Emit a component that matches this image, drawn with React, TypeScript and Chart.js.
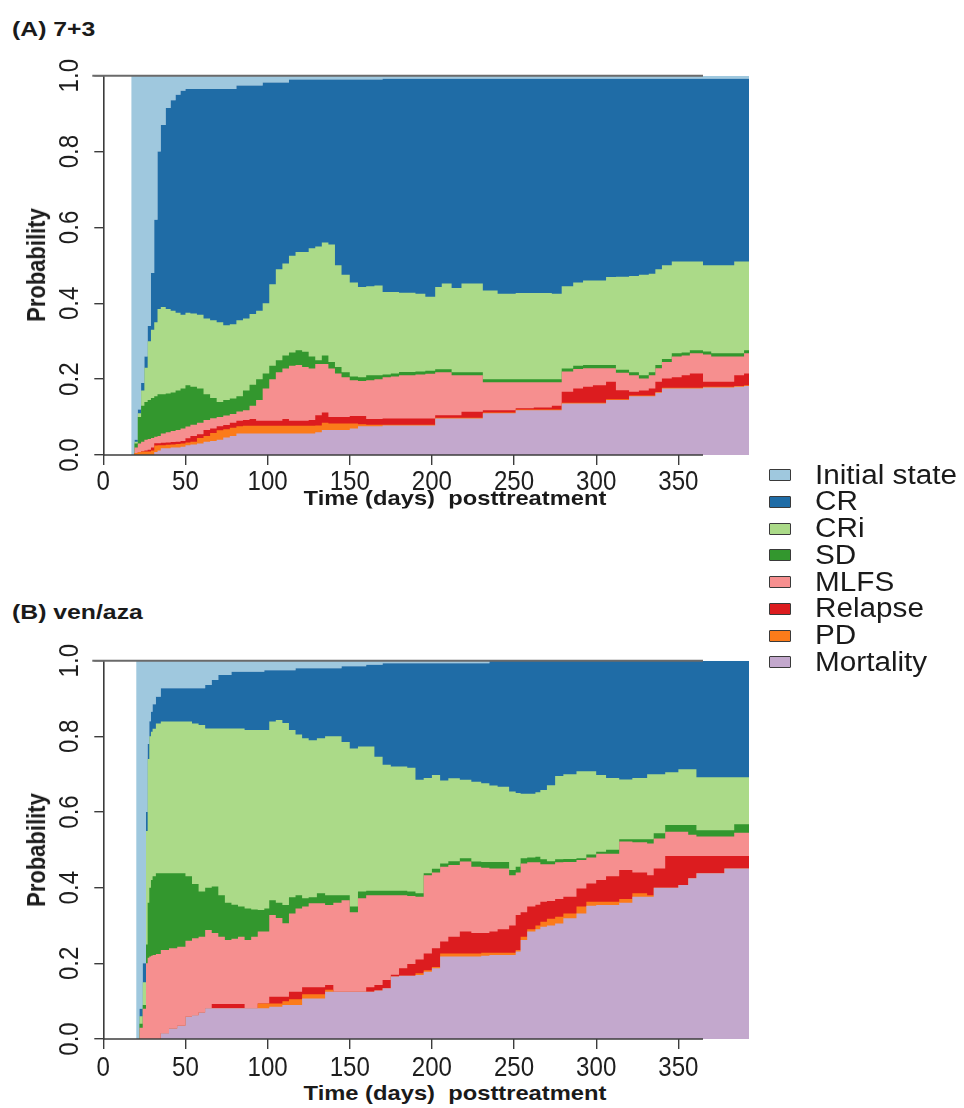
import React, { useEffect, useRef } from 'react';
import { Chart, registerables } from 'chart.js';

Chart.register(...registerables);

const FONT = "'Liberation Sans', Arial, Helvetica, sans-serif";

// ---------- shared labels / colours (bottom-to-top stacking order) ----------
const stateNames = ['Mortality', 'PD', 'Relapse', 'MLFS', 'SD', 'CRi', 'CR', 'Initial state'];
const stateColors = ['#c3a8cd', '#fb7b1a', '#dc1c1f', '#f68f8f', '#33972e', '#abda88', '#1f6ca6', '#9fc8de'];
const legendOrder = ['Initial state', 'CR', 'CRi', 'SD', 'MLFS', 'Relapse', 'PD', 'Mortality'];

const xTickValues = [0, 50, 100, 150, 200, 250, 300, 350];
const yTickValues = [0, 0.2, 0.4, 0.6, 0.8, 1.0];
const axisEndDay = 365;
const lastDay = 393;

// ---------- Panel A: 7+3 (cumulative upper edge of each state) ----------
const aDays = [17, 19, 21, 23, 25, 27, 29, 31, 33, 35, 38, 41, 44, 47, 50, 53, 57, 61, 65, 69, 73, 77, 81, 85, 89, 93, 97, 101, 105, 109, 113, 117, 121, 125, 129, 133, 137, 141, 145, 150, 155, 160, 165, 170, 175, 180, 190, 196, 202, 206, 212, 218, 225, 231, 240, 251, 262, 273, 279, 286, 292, 298, 306, 312, 320, 326, 332, 336, 340, 346, 352, 357, 365, 370, 384, 390, 393];
const aMortality = [0, 0, 0, 0, 0, 0, 0, 0.008, 0.012, 0.018, 0.018, 0.02, 0.02, 0.022, 0.026, 0.028, 0.03, 0.035, 0.037, 0.04, 0.046, 0.05, 0.057, 0.057, 0.057, 0.057, 0.057, 0.057, 0.057, 0.057, 0.057, 0.057, 0.057, 0.057, 0.06, 0.066, 0.066, 0.066, 0.066, 0.07, 0.076, 0.076, 0.076, 0.078, 0.078, 0.078, 0.078, 0.078, 0.096, 0.096, 0.096, 0.096, 0.096, 0.11, 0.11, 0.118, 0.118, 0.118, 0.136, 0.136, 0.136, 0.136, 0.145, 0.145, 0.155, 0.155, 0.155, 0.164, 0.175, 0.175, 0.175, 0.175, 0.178, 0.178, 0.18, 0.182, 0.182];
const aPD = [0, 0.005, 0.008, 0.009, 0.009, 0.009, 0.012, 0.025, 0.026, 0.026, 0.027, 0.028, 0.029, 0.03, 0.033, 0.035, 0.045, 0.05, 0.058, 0.065, 0.068, 0.072, 0.076, 0.077, 0.077, 0.077, 0.077, 0.077, 0.077, 0.077, 0.077, 0.077, 0.077, 0.077, 0.078, 0.085, 0.083, 0.083, 0.083, 0.083, 0.081, 0.08, 0.08, 0.08, 0.08, 0.08, 0.08, 0.08, 0.098, 0.098, 0.098, 0.098, 0.098, 0.112, 0.112, 0.12, 0.12, 0.12, 0.138, 0.138, 0.138, 0.138, 0.147, 0.147, 0.157, 0.157, 0.157, 0.166, 0.177, 0.177, 0.177, 0.177, 0.18, 0.18, 0.182, 0.184, 0.184];
const aRelapse = [0, 0.005, 0.008, 0.01, 0.012, 0.014, 0.02, 0.031, 0.031, 0.032, 0.033, 0.034, 0.035, 0.037, 0.044, 0.05, 0.055, 0.066, 0.07, 0.076, 0.079, 0.085, 0.09, 0.092, 0.095, 0.09, 0.09, 0.09, 0.09, 0.095, 0.09, 0.09, 0.09, 0.092, 0.105, 0.112, 0.1, 0.1, 0.1, 0.103, 0.103, 0.095, 0.095, 0.096, 0.096, 0.096, 0.096, 0.096, 0.105, 0.105, 0.105, 0.114, 0.114, 0.118, 0.118, 0.123, 0.125, 0.13, 0.167, 0.175, 0.18, 0.184, 0.193, 0.171, 0.167, 0.17, 0.175, 0.193, 0.202, 0.205, 0.21, 0.215, 0.193, 0.193, 0.21, 0.215, 0.215];
const aMLFS = [0, 0.02, 0.03, 0.035, 0.04, 0.042, 0.045, 0.048, 0.05, 0.057, 0.06, 0.063, 0.066, 0.07, 0.075, 0.08, 0.085, 0.092, 0.097, 0.1, 0.104, 0.108, 0.115, 0.118, 0.13, 0.145, 0.175, 0.2, 0.218, 0.228, 0.235, 0.237, 0.232, 0.228, 0.24, 0.24, 0.228, 0.215, 0.205, 0.197, 0.195, 0.197, 0.2, 0.205, 0.207, 0.21, 0.212, 0.214, 0.218, 0.218, 0.21, 0.21, 0.21, 0.192, 0.192, 0.192, 0.192, 0.192, 0.22, 0.227, 0.229, 0.229, 0.229, 0.217, 0.21, 0.202, 0.21, 0.229, 0.245, 0.26, 0.262, 0.268, 0.265, 0.26, 0.26, 0.268, 0.268];
const aSD = [0, 0.03, 0.1, 0.13, 0.14, 0.145, 0.15, 0.155, 0.16, 0.16, 0.162, 0.165, 0.17, 0.175, 0.184, 0.18, 0.175, 0.16, 0.15, 0.14, 0.145, 0.149, 0.155, 0.17, 0.185, 0.2, 0.215, 0.235, 0.25, 0.262, 0.27, 0.276, 0.272, 0.26, 0.25, 0.262, 0.245, 0.232, 0.218, 0.207, 0.205, 0.21, 0.21, 0.212, 0.215, 0.219, 0.22, 0.222, 0.226, 0.226, 0.218, 0.218, 0.218, 0.2, 0.2, 0.2, 0.2, 0.2, 0.228, 0.235, 0.237, 0.237, 0.237, 0.225, 0.218, 0.21, 0.218, 0.237, 0.253, 0.268, 0.27, 0.276, 0.273, 0.268, 0.268, 0.276, 0.276];
const aCRi = [0, 0.035, 0.11, 0.17, 0.23, 0.3, 0.33, 0.35, 0.385, 0.39, 0.385, 0.38, 0.375, 0.37, 0.375, 0.373, 0.37, 0.36, 0.355, 0.35, 0.342, 0.345, 0.355, 0.36, 0.372, 0.38, 0.4, 0.45, 0.49, 0.505, 0.525, 0.535, 0.535, 0.545, 0.55, 0.56, 0.555, 0.5, 0.475, 0.455, 0.443, 0.445, 0.447, 0.43, 0.43, 0.428, 0.425, 0.417, 0.443, 0.452, 0.44, 0.452, 0.452, 0.434, 0.425, 0.427, 0.427, 0.425, 0.445, 0.455, 0.46, 0.46, 0.469, 0.47, 0.472, 0.475, 0.478, 0.49, 0.5, 0.51, 0.51, 0.51, 0.5, 0.5, 0.51, 0.51, 0.51];
const aCR = [0, 0.04, 0.12, 0.19, 0.26, 0.34, 0.48, 0.62, 0.8, 0.87, 0.915, 0.935, 0.95, 0.96, 0.965, 0.965, 0.965, 0.965, 0.965, 0.965, 0.965, 0.965, 0.974, 0.974, 0.974, 0.974, 0.982, 0.982, 0.982, 0.982, 0.99, 0.99, 0.99, 0.99, 0.99, 0.99, 0.99, 0.99, 0.99, 0.99, 0.99, 0.99, 0.99, 0.992, 0.992, 0.992, 0.992, 0.992, 0.992, 0.992, 0.992, 0.992, 0.992, 0.992, 0.992, 0.992, 0.992, 0.992, 0.992, 0.992, 0.992, 0.992, 0.992, 0.992, 0.992, 0.992, 0.992, 0.992, 0.992, 0.992, 0.992, 0.992, 0.992, 0.992, 0.992, 0.992, 0.992];

// ---------- Panel B: ven/aza (cumulative upper edge of each state) ----------
const bDays = [20, 22, 24, 26, 27, 28, 29, 30, 32, 35, 40, 45, 50, 54, 58, 62, 66, 70, 74, 78, 82, 86, 90, 94, 98, 101, 105, 109, 113, 117, 121, 125, 130, 135, 140, 145, 150, 155, 160, 165, 170, 175, 180, 185, 190, 195, 200, 205, 210, 217, 224, 230, 235, 240, 247, 251, 254, 258, 263, 266, 270, 275, 280, 288, 294, 300, 306, 314, 322, 331, 335, 342, 350, 356, 361, 372, 378, 384, 393];
const bMortality = [0, 0, 0, 0, 0, 0, 0, 0, 0, 0.015, 0.028, 0.035, 0.059, 0.063, 0.07, 0.081, 0.081, 0.081, 0.081, 0.081, 0.081, 0.081, 0.081, 0.081, 0.081, 0.085, 0.085, 0.09, 0.09, 0.09, 0.107, 0.107, 0.107, 0.125, 0.125, 0.125, 0.125, 0.125, 0.125, 0.128, 0.134, 0.165, 0.167, 0.167, 0.169, 0.178, 0.187, 0.218, 0.218, 0.218, 0.218, 0.22, 0.222, 0.222, 0.222, 0.231, 0.262, 0.284, 0.29, 0.297, 0.3, 0.305, 0.319, 0.332, 0.352, 0.354, 0.354, 0.36, 0.376, 0.376, 0.4, 0.4, 0.407, 0.425, 0.438, 0.438, 0.451, 0.451, 0.451];
const bPD = [0, 0, 0, 0, 0, 0, 0, 0, 0, 0.015, 0.028, 0.035, 0.059, 0.063, 0.07, 0.081, 0.081, 0.081, 0.081, 0.081, 0.081, 0.081, 0.081, 0.094, 0.094, 0.094, 0.094, 0.1, 0.105, 0.105, 0.118, 0.118, 0.118, 0.13, 0.125, 0.125, 0.125, 0.125, 0.125, 0.128, 0.134, 0.165, 0.167, 0.167, 0.174, 0.182, 0.19, 0.226, 0.226, 0.226, 0.226, 0.228, 0.228, 0.228, 0.228, 0.235, 0.27, 0.29, 0.3, 0.31, 0.318, 0.323, 0.332, 0.35, 0.363, 0.363, 0.363, 0.37, 0.385, 0.38, 0.4, 0.4, 0.407, 0.425, 0.438, 0.438, 0.451, 0.451, 0.451];
const bRelapse = [0, 0, 0, 0, 0, 0, 0, 0, 0, 0.015, 0.028, 0.035, 0.059, 0.063, 0.07, 0.081, 0.0925, 0.0925, 0.0925, 0.0925, 0.0925, 0.081, 0.081, 0.094, 0.094, 0.112, 0.112, 0.112, 0.125, 0.125, 0.137, 0.137, 0.137, 0.143, 0.125, 0.125, 0.125, 0.125, 0.137, 0.143, 0.156, 0.17, 0.187, 0.198, 0.21, 0.226, 0.24, 0.258, 0.27, 0.284, 0.28, 0.28, 0.284, 0.29, 0.3, 0.328, 0.335, 0.35, 0.355, 0.363, 0.365, 0.37, 0.376, 0.398, 0.411, 0.42, 0.43, 0.447, 0.44, 0.433, 0.451, 0.484, 0.484, 0.484, 0.484, 0.484, 0.484, 0.484, 0.484];
const bMLFS = [0, 0.03, 0.08, 0.2, 0.215, 0.218, 0.22, 0.222, 0.225, 0.235, 0.24, 0.244, 0.26, 0.266, 0.27, 0.288, 0.28, 0.27, 0.262, 0.265, 0.27, 0.262, 0.27, 0.284, 0.284, 0.328, 0.32, 0.306, 0.332, 0.345, 0.35, 0.359, 0.359, 0.354, 0.36, 0.367, 0.335, 0.372, 0.38, 0.38, 0.38, 0.38, 0.38, 0.378, 0.376, 0.433, 0.44, 0.455, 0.46, 0.469, 0.455, 0.453, 0.451, 0.451, 0.433, 0.44, 0.464, 0.467, 0.467, 0.462, 0.462, 0.467, 0.468, 0.473, 0.48, 0.49, 0.49, 0.522, 0.52, 0.517, 0.53, 0.548, 0.548, 0.54, 0.535, 0.535, 0.535, 0.545, 0.547];
const bSD = [0, 0.04, 0.09, 0.25, 0.36, 0.4, 0.42, 0.43, 0.438, 0.438, 0.438, 0.438, 0.43, 0.41, 0.39, 0.4, 0.403, 0.38, 0.36, 0.355, 0.35, 0.345, 0.342, 0.341, 0.345, 0.367, 0.36, 0.354, 0.375, 0.38, 0.372, 0.375, 0.385, 0.38, 0.38, 0.38, 0.35, 0.39, 0.392, 0.392, 0.392, 0.392, 0.392, 0.39, 0.385, 0.438, 0.45, 0.464, 0.47, 0.478, 0.469, 0.468, 0.468, 0.468, 0.447, 0.455, 0.478, 0.48, 0.482, 0.475, 0.47, 0.475, 0.476, 0.478, 0.488, 0.495, 0.5, 0.528, 0.528, 0.528, 0.544, 0.566, 0.566, 0.566, 0.552, 0.552, 0.552, 0.568, 0.574];
const bCRi = [0, 0.06, 0.15, 0.55, 0.74, 0.8, 0.812, 0.82, 0.834, 0.839, 0.839, 0.839, 0.839, 0.834, 0.83, 0.821, 0.821, 0.821, 0.821, 0.821, 0.821, 0.817, 0.817, 0.817, 0.817, 0.839, 0.843, 0.835, 0.817, 0.805, 0.795, 0.79, 0.795, 0.8, 0.8, 0.785, 0.768, 0.773, 0.773, 0.746, 0.725, 0.72, 0.72, 0.717, 0.685, 0.69, 0.698, 0.683, 0.689, 0.685, 0.68, 0.676, 0.67, 0.667, 0.654, 0.65, 0.648, 0.648, 0.652, 0.658, 0.671, 0.695, 0.7, 0.708, 0.708, 0.698, 0.69, 0.686, 0.69, 0.7, 0.7, 0.705, 0.713, 0.713, 0.692, 0.692, 0.692, 0.692, 0.692];
const bCR = [0, 0.08, 0.2, 0.6, 0.78, 0.84, 0.865, 0.885, 0.905, 0.927, 0.927, 0.927, 0.927, 0.927, 0.927, 0.936, 0.949, 0.962, 0.962, 0.971, 0.971, 0.971, 0.971, 0.971, 0.975, 0.975, 0.975, 0.975, 0.975, 0.98, 0.98, 0.98, 0.98, 0.98, 0.98, 0.985, 0.985, 0.985, 0.989, 0.989, 0.993, 0.993, 0.993, 0.993, 0.993, 0.993, 0.993, 0.993, 0.993, 0.993, 0.993, 0.993, 1, 1, 1, 1, 1, 1, 1, 1, 1, 1, 1, 1, 1, 1, 1, 1, 1, 1, 1, 1, 1, 1, 1, 1, 1, 1, 1];

const aSeries = [aMortality, aPD, aRelapse, aMLFS, aSD, aCRi, aCR];
const bSeries = [bMortality, bPD, bRelapse, bMLFS, bSD, bCRi, bCR];

// ---------- layout ----------
const Y_TICK_LEN = 9;
const X_TICK_LEN = 10;
const TICK_FONT_SIZE = 28;
const TICK_SQUEEZE = 0.86; // narrow tick-label lettering
const Y_LABEL_CENTER_X = 67.5;

function buildDatasets(days: number[], series: number[][]) {
  const sets: any[] = series.map((vals, i) => ({
    label: stateNames[i],
    data: days.map((d, j) => ({ x: d, y: vals[j] })),
    backgroundColor: stateColors[i],
    borderColor: 'rgba(0,0,0,0)',
    borderWidth: 0,
    fill: 'origin',
    stepped: 'before',
    pointRadius: 0,
  }));
  // Initial state: from the CR edge up to probability 1
  const crVals = series[series.length - 1];
  sets.push({
    label: stateNames[7],
    data: days.map((d, j) => ({ x: d, y: crVals[j] })),
    backgroundColor: stateColors[7],
    borderColor: 'rgba(0,0,0,0)',
    borderWidth: 0,
    fill: { value: 1 },
    stepped: 'before',
    pointRadius: 0,
  });
  return sets;
}

const axisLinePlugin = {
  id: 'rAxisLines',
  afterDatasetsDraw(chart: any) {
    const { ctx, scales } = chart;
    const x = scales.x;
    const y = scales.y;
    const x0 = x.getPixelForValue(0);
    const x1 = x.getPixelForValue(axisEndDay);
    const yb = y.getPixelForValue(0);
    const yt = y.getPixelForValue(1);
    ctx.save();
    ctx.strokeStyle = '#3c3c3c';
    ctx.lineWidth = 1.6;
    ctx.beginPath();
    ctx.moveTo(x0, yb);
    ctx.lineTo(x1, yb);
    ctx.stroke();
    ctx.strokeStyle = '#6a6a6a';
    ctx.lineWidth = 2;
    ctx.beginPath();
    ctx.moveTo(x0 - Y_TICK_LEN - 2, yt);
    ctx.lineTo(x1, yt);
    ctx.stroke();
    ctx.restore();
  },
};

// R-style tick labels: narrow lettering, y labels parallel to the axis
function makeTickLabelPlugin(xLabelCenter: number) {
  return {
    id: 'rTickLabels',
    afterDraw(chart: any) {
      const { ctx, scales, chartArea } = chart;
      const x = scales.x;
      const y = scales.y;
      ctx.save();
      ctx.fillStyle = '#1e1e1e';
      ctx.font = `${TICK_FONT_SIZE}px ${FONT}`;
      ctx.textAlign = 'center';
      ctx.textBaseline = 'alphabetic';
      const half = 0.358 * TICK_FONT_SIZE;
      x.ticks.forEach((t: any) => {
        const px = x.getPixelForValue(t.value);
        ctx.save();
        ctx.translate(px, chartArea.bottom + xLabelCenter + half);
        ctx.scale(TICK_SQUEEZE, 1);
        ctx.fillText(String(t.value), 0, 0);
        ctx.restore();
      });
      y.ticks.forEach((t: any) => {
        const py = y.getPixelForValue(t.value);
        ctx.save();
        ctx.translate(Y_LABEL_CENTER_X + half, py);
        ctx.rotate(-Math.PI / 2);
        ctx.scale(TICK_SQUEEZE, 1);
        ctx.fillText(Number(t.value).toFixed(1), 0, 0);
        ctx.restore();
      });
      ctx.restore();
    },
  };
}

type PanelProps = {
  days: number[];
  series: number[][];
  top: number; // canvas top (page y)
  plotTop: number; // page y of probability 1
  plotBottom: number; // page y of probability 0
  labelGap: number; // distance from axis to tick-label centre
};

const CANVAS_W = 770;
const CANVAS_H = 460;
const PLOT_LEFT = 103.3;
const PLOT_RIGHT = 749;

function Panel({ days, series, top, plotTop, plotBottom, labelGap }: PanelProps) {
  const ref = useRef<HTMLCanvasElement | null>(null);
  useEffect(() => {
    if (!ref.current) return;
    const xScaleH = CANVAS_H - (plotBottom - top);
    const chart = new Chart(ref.current, {
      type: 'line',
      data: { datasets: buildDatasets(days, series) },
      options: {
        animation: false,
        responsive: false,
        maintainAspectRatio: false,
        layout: { padding: { top: plotTop - top, right: CANVAS_W - PLOT_RIGHT, left: 0, bottom: 0 } },
        plugins: { legend: { display: false }, tooltip: { enabled: false }, title: { display: false } },
        elements: { point: { radius: 0 }, line: { tension: 0 } },
        scales: {
          x: {
            type: 'linear',
            min: 0,
            max: lastDay,
            afterBuildTicks: (s: any) => {
              s.ticks = xTickValues.map((v) => ({ value: v }));
            },
            afterFit: (s: any) => {
              s.height = xScaleH;
            },
            grid: { drawOnChartArea: false, drawTicks: true, tickLength: X_TICK_LEN, color: '#3c3c3c', lineWidth: 1.4 },
            border: { display: false },
            ticks: { display: false },
          },
          y: {
            type: 'linear',
            min: 0,
            max: 1,
            afterBuildTicks: (s: any) => {
              s.ticks = yTickValues.map((v) => ({ value: v }));
            },
            afterFit: (s: any) => {
              s.width = PLOT_LEFT;
            },
            grid: { drawOnChartArea: false, drawTicks: true, tickLength: Y_TICK_LEN, color: '#3c3c3c', lineWidth: 1.4 },
            border: { display: true, color: '#3c3c3c', width: 1.6 },
            ticks: { display: false },
          },
        },
      } as any,
      plugins: [axisLinePlugin, makeTickLabelPlugin(labelGap)],
    });
    return () => chart.destroy();
  }, [days, series, top, plotTop, plotBottom, labelGap]);
  return (
    <canvas
      ref={ref}
      width={CANVAS_W}
      height={CANVAS_H}
      style={{ position: 'absolute', left: 0, top, width: CANVAS_W, height: CANVAS_H }}
    />
  );
}

const boldText: React.CSSProperties = {
  position: 'absolute',
  fontFamily: FONT,
  fontWeight: 700,
  whiteSpace: 'pre',
  lineHeight: 1,
  color: '#1a1a1a',
};

function AxisTitles({ plotTop, plotBottom, xTitleY }: { plotTop: number; plotBottom: number; xTitleY: number }) {
  const mid = (plotTop + plotBottom) / 2;
  return (
    <>
      <div
        style={{
          ...boldText,
          fontSize: 22,
          left: 37,
          top: mid,
          transform: 'translate(-50%, -50%) scaleX(1.15) rotate(-90deg)',
        }}
      >
        Probability
      </div>
      <div
        style={{
          ...boldText,
          fontSize: 21,
          left: 455,
          top: xTitleY,
          transform: 'translate(-50%, -50%) scaleX(1.13)',
        }}
      >
        {'Time (days)  posttreatment'}
      </div>
    </>
  );
}

function PanelTitle({ text, y }: { text: string; y: number }) {
  return (
    <div
      style={{
        ...boldText,
        fontSize: 21,
        left: 12,
        top: y - 10.5,
        transform: 'scaleX(1.18)',
        transformOrigin: '0 50%',
      }}
    >
      {text}
    </div>
  );
}

function Legend() {
  const rowH = 26.75;
  const firstCenter = 475;
  return (
    <div style={{ position: 'absolute', left: 769, top: firstCenter - rowH / 2 }}>
      {legendOrder.map((name, i) => {
        const idx = stateNames.indexOf(name);
        return (
          <div
            key={name}
            style={{ position: 'absolute', left: 0, top: i * rowH, height: rowH, display: 'flex', alignItems: 'center', whiteSpace: 'pre' }}
          >
            <div
              style={{
                width: 20,
                height: 10,
                background: stateColors[idx],
                border: '1px solid #3a3a3a',
                borderRadius: 1,
                flex: '0 0 auto',
              }}
            />
            <div
              style={{
                marginLeft: 24,
                fontFamily: FONT,
                fontSize: 27,
                lineHeight: `${rowH}px`,
                color: '#1a1a1a',
                transform: 'scaleX(1.1)',
                transformOrigin: '0 50%',
              }}
            >
              {name}
            </div>
          </div>
        );
      })}
    </div>
  );
}

export default function App() {
  return (
    <div
      style={{
        position: 'absolute',
        left: 0,
        top: 0,
        width: 964,
        height: 1108,
        background: '#fff',
        overflow: 'hidden',
      }}
    >
      <PanelTitle text="(A) 7+3" y={28} />
      <Panel days={aDays} series={aSeries} top={40} plotTop={75.7} plotBottom={455} labelGap={25} />
      <AxisTitles plotTop={75.7} plotBottom={455} xTitleY={497} />

      <PanelTitle text="(B) ven/aza" y={611} />
      <Panel days={bDays} series={bSeries} top={620} plotTop={660.7} plotBottom={1039} labelGap={27} />
      <AxisTitles plotTop={660.7} plotBottom={1039} xTitleY={1092} />

      <Legend />
    </div>
  );
}
